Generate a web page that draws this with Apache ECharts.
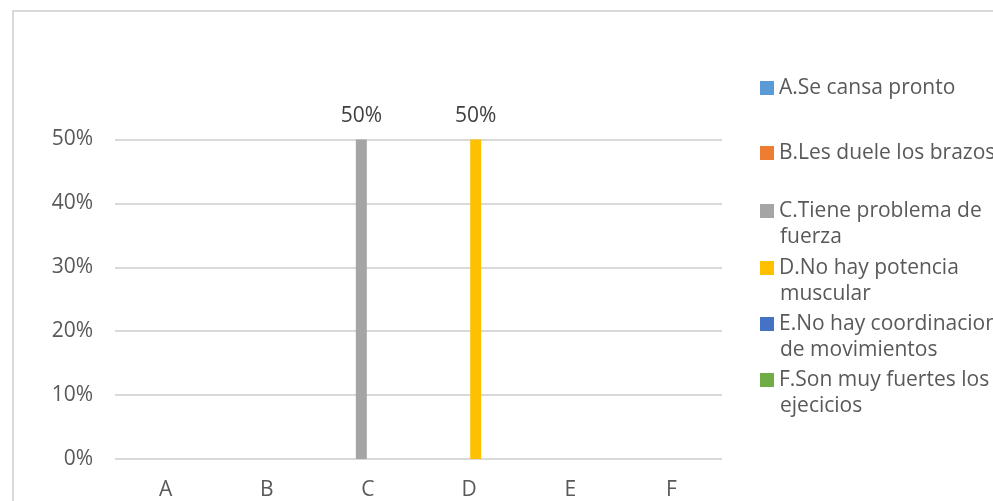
<!DOCTYPE html>
<html>
<head>
<meta charset="utf-8">
<script src="https://cdn.jsdelivr.net/npm/echarts@6/dist/echarts.min.js"></script>
<style>
  html, body { margin: 0; padding: 0; background: #fff; }
  #chart { width: 993px; height: 501px; }
</style>
</head>
<body>
<div id="chart"></div>
<script>
// Categories on the x axis
var categories = ['A', 'B', 'C', 'D', 'E', 'F'];
// One series per answer option (legend names)
var seriesNames = [
  'A.Se cansa pronto',
  'B.Les duele los brazos',
  'C.Tiene problema de fuerza',
  'D.No hay potencia muscular',
  'E.No hay coordinacion de movimientos',
  'F.Son muy fuertes los ejecicios'
];
// Legend text split into its wrapped lines
var legendLines = [
  ['A.Se cansa pronto'],
  ['B.Les duele los brazos'],
  ['C.Tiene problema de', 'fuerza'],
  ['D.No hay potencia', 'muscular'],
  ['E.No hay coordinacion', 'de movimientos'],
  ['F.Son muy fuertes los', 'ejecicios']
];
// Percentage for each option (each option sits in its own category)
var percentValues = [0, 0, 50, 50, 0, 0];
// Y axis ticks
var yTicks = [0, 10, 20, 30, 40, 50];
var seriesColors = ['#5B9BD5', '#ED7D31', '#A5A5A5', '#FFC000', '#4472C4', '#70AD47'];
// Vertical centre of the first line of each legend entry
var legendRowY = [88, 153, 211, 268, 324, 380];

var FONT = '"Open Sans", "Noto Sans", sans-serif';
var FONT_SIZE = 21;
var LINE_H = 26;
var TEXT_COLOR = '#595959';

var series = seriesNames.map(function (name, i) {
  var data = categories.map(function (c, j) { return j === i ? percentValues[i] : '-'; });
  return {
    name: name,
    type: 'bar',
    data: data,
    barWidth: 11,
    barGap: '20%',
    itemStyle: { color: seriesColors[i] },
    label: {
      show: percentValues[i] > 0,
      position: 'top',
      distance: 13,
      formatter: '{c}%',
      color: '#404040',
      fontFamily: FONT,
      fontSize: FONT_SIZE
    }
  };
});

// One legend block per entry so each row can be placed on its own
var legends = seriesNames.map(function (name, i) {
  var first = legendLines[i][0];
  return {
    data: [name],
    orient: 'vertical',
    left: 760,
    top: legendRowY[i] - 13,
    itemWidth: 14,
    itemHeight: 14,
    itemGap: 0,
    padding: 0,
    icon: 'rect',
    selectedMode: false,
    formatter: function () { return first; },
    textStyle: {
      color: TEXT_COLOR,
      fontFamily: FONT,
      fontSize: FONT_SIZE,
      lineHeight: LINE_H
    }
  };
});

// Continuation lines of the wrapped legend entries
var graphics = [{
  type: 'rect',
  silent: true,
  shape: { x: 13, y: 11, width: 1200, height: 700 },
  style: { fill: 'none', stroke: '#d9d9d9', lineWidth: 2 }
}];
legendLines.forEach(function (lines, i) {
  for (var k = 1; k < lines.length; k++) {
    graphics.push({
      type: 'text',
      silent: true,
      left: 780,
      top: legendRowY[i] + k * LINE_H - LINE_H / 2,
      style: {
        text: lines[k],
        fill: TEXT_COLOR,
        font: FONT_SIZE + 'px ' + FONT,
        lineHeight: LINE_H
      }
    });
  }
});

var chart = echarts.init(document.getElementById('chart'), null, { renderer: 'canvas' });
chart.setOption({
  animation: false,
  backgroundColor: '#ffffff',
  grid: { left: 115, right: 271, top: 139.5, bottom: 39.5 },
  xAxis: {
    type: 'category',
    data: categories,
    axisLine: { show: false },
    axisTick: { show: false },
    axisLabel: { color: TEXT_COLOR, fontFamily: FONT, fontSize: FONT_SIZE, margin: 21 }
  },
  yAxis: {
    type: 'value',
    min: yTicks[0],
    max: yTicks[yTicks.length - 1],
    interval: yTicks[1] - yTicks[0],
    axisLine: { show: false },
    axisTick: { show: false },
    axisLabel: { color: TEXT_COLOR, fontFamily: FONT, fontSize: FONT_SIZE, margin: 22, formatter: '{value}%' },
    splitLine: { lineStyle: { color: '#d9d9d9', width: 2 } }
  },
  legend: legends,
  graphic: graphics,
  series: series
});
</script>
</body>
</html>
